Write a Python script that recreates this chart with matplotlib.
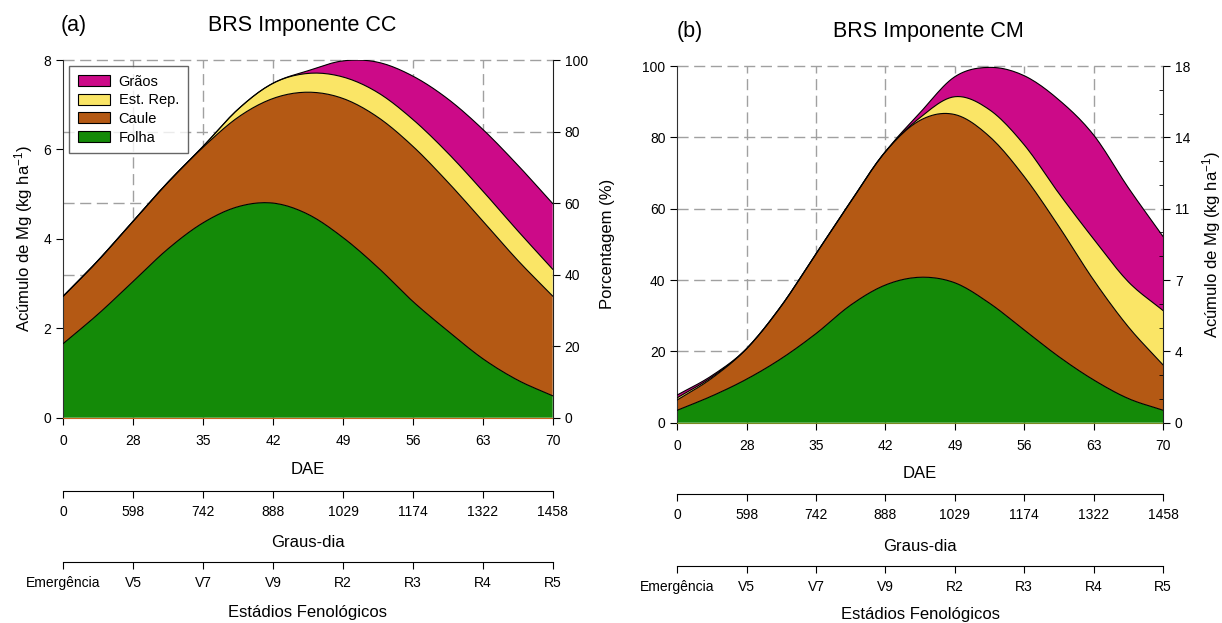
import numpy as np
import matplotlib
matplotlib.use('Agg')
import matplotlib.pyplot as plt
from matplotlib.patches import Patch

plt.rcParams['font.family'] = ['Liberation Sans', 'DejaVu Sans']
plt.rcParams['mathtext.default'] = 'regular'

# axis labels
dae = ['0', '28', '35', '42', '49', '56', '63', '70']
graus = ['0', '598', '742', '888', '1029', '1174', '1322', '1458']
estadios = ['Emergência', 'V5', 'V7', 'V9', 'R2', 'R3', 'R4', 'R5']

# positions along the DAE axis (tick index) where the curves were read
x_pos = [0, 0.5, 1, 1.5, 2, 2.5, 3, 3.5, 4, 4.5, 5, 5.5, 6, 6.5, 7]

# (a) BRS Imponente CC, Mg accumulation (kg/ha) per organ
folha_cc = [1.66, 2.32, 3.05, 3.78, 4.36, 4.72, 4.80, 4.55, 4.03, 3.36, 2.60, 1.94, 1.32, 0.84, 0.49]
caule_cc = [1.06, 1.20, 1.35, 1.49, 1.69, 2.00, 2.34, 2.73, 3.11, 3.36, 3.47, 3.33, 3.08, 2.68, 2.23]
est_cc = [0, 0, 0, 0, 0.02, 0.18, 0.34, 0.42, 0.48, 0.55, 0.60, 0.65, 0.67, 0.66, 0.60]
graos_cc = [0, 0, 0, 0, 0, 0, 0, 0.06, 0.36, 0.68, 0.97, 1.21, 1.38, 1.47, 1.47]

# (b) BRS Imponente CM, Mg accumulation (kg/ha) per organ
folha_cm = [0.63, 1.35, 2.20, 3.24, 4.50, 5.94, 6.95, 7.34, 7.06, 6.03, 4.68, 3.33, 2.16, 1.22, 0.63]
caule_cm = [0.52, 0.90, 1.54, 2.66, 4.03, 5.22, 6.73, 7.92, 8.49, 8.41, 7.74, 6.57, 5.04, 3.62, 2.29]
est_cm = [0.11, 0.06, 0, 0, 0, 0, 0, 0.14, 0.90, 1.35, 1.60, 1.67, 2.07, 2.27, 2.74]
graos_cm = [0.14, 0.07, 0, 0, 0, 0, 0, 0.25, 1.01, 2.14, 3.49, 4.72, 5.25, 4.75, 3.74]

names = ['Folha', 'Caule', 'Est. Rep.', 'Grãos']
colors = ['#148a08', '#b45914', '#fae566', '#cc0a88']


def smooth(x, y, n=12):
    # cubic hermite through the read points, only for a smooth outline
    x = np.asarray(x, float)
    y = np.asarray(y, float)
    m = np.gradient(y, x)
    xs, ys = [], []
    t = np.linspace(0, 1, n, endpoint=False)
    h00 = 2*t**3 - 3*t**2 + 1
    h10 = t**3 - 2*t**2 + t
    h01 = -2*t**3 + 3*t**2
    h11 = t**3 - t**2
    for i in range(len(x) - 1):
        h = x[i+1] - x[i]
        xs.append(x[i] + t*h)
        ys.append(h00*y[i] + h10*h*m[i] + h01*y[i+1] + h11*h*m[i+1])
    xs.append([x[-1]])
    ys.append([y[-1]])
    return np.concatenate(xs), np.concatenate(ys)


def draw_stack(ax, comps):
    tops = np.cumsum(np.array(comps, float), axis=0)
    xs = smooth(x_pos, tops[0])[0]
    dense = np.array([smooth(x_pos, t)[1] for t in tops])
    dense = np.maximum.accumulate(np.clip(dense, 0, None), axis=0)
    lower = np.zeros_like(xs)
    for top, c in zip(dense, colors):
        ax.fill_between(xs, lower, top, facecolor=c, edgecolor='none', zorder=2)
        lower = top
    for top in dense:
        ax.plot(xs, top, color='black', lw=0.8, zorder=3)


W, H = 1222, 623
fig = plt.figure(figsize=(W/100, H/100), dpi=100)


def box(l, t, r, b):
    return [l/W, 1 - b/H, (r - l)/W, (b - t)/H]


def setup(ax, ymax, base_color, pad_lab):
    ax.set_xlim(0, 7)
    ax.set_ylim(0, ymax)
    ax.set_xticks(range(8))
    ax.set_xticklabels(dae)
    for k in range(1, 6):
        ax.axhline(ymax*k/5, color='#a0a0a0', lw=1.0, dashes=(8, 4), zorder=1, clip_on=False)
    for i in range(1, 7):
        ax.axvline(i, color='#a0a0a0', lw=1.0, dashes=(8, 4), zorder=1)
    ax.spines['top'].set_visible(False)
    ax.spines['right'].set_visible(False)
    ax.spines['left'].set_color('#303030')
    ax.spines['bottom'].set_color(base_color)
    ax.tick_params(direction='out', length=5, width=0.8, labelsize=10)
    ax.tick_params(axis='x', pad=7)
    ax.set_xlabel('DAE', fontsize=12, labelpad=pad_lab)
    tw = ax.twinx()
    tw.set_ylim(0, ymax)
    for s in ['top', 'left', 'bottom']:
        tw.spines[s].set_visible(False)
    tw.spines['right'].set_color('#202020')
    tw.tick_params(direction='out', length=5, width=0.8, labelsize=10)
    return tw


def scale_axis(ax, y_px, labels, title, pad_lab):
    p = ax.get_position()
    a = fig.add_axes([p.x0, 1 - y_px/H, p.width, 1e-4])
    a.set_xlim(0, 7)
    a.set_xticks(range(8))
    a.set_xticklabels(labels)
    a.set_yticks([])
    a.patch.set_visible(False)
    for s in ['top', 'left', 'right']:
        a.spines[s].set_visible(False)
    a.tick_params(axis='x', direction='out', length=5, width=0.8, labelsize=10, pad=5)
    a.set_xlabel(title, fontsize=12, labelpad=pad_lab)


# ---- (a)
ax_a = fig.add_axes(box(63.3, 60, 552.7, 417.7))
draw_stack(ax_a, [folha_cc, caule_cc, est_cc, graos_cc])
tw_a = setup(ax_a, 8, '#c8641e', 9.5)
ax_a.set_yticks([0, 2, 4, 6, 8])
tw_a.set_yticks(np.linspace(0, 8, 6))
tw_a.set_yticklabels(['0', '20', '40', '60', '80', '100'])
ax_a.set_ylabel('Acúmulo de Mg (kg ha$^{-1}$)', fontsize=12)
ax_a.yaxis.set_label_coords(-0.058, 0.5)
handles = [Patch(facecolor=colors[i], edgecolor='black', lw=0.8, label=names[i]) for i in [3, 2, 1, 0]]
leg = ax_a.legend(handles=handles, loc='upper left', fontsize=10.5, frameon=True, fancybox=False,
                  edgecolor='#404040', handlelength=2.2, handleheight=0.8, labelspacing=0.32,
                  handletextpad=0.6, borderaxespad=0.4, borderpad=0.6)
leg.get_frame().set_linewidth(1.0)
leg.set_zorder(5)
scale_axis(ax_a, 490.7, graus, 'Graus-dia', 12)
scale_axis(ax_a, 562.3, estadios, 'Estádios Fenológicos', 11)
fig.text(302/W, 1 - 25/H, 'BRS Imponente CC', fontsize=15.5, ha='center', va='center')
fig.text(61/W, 1 - 25/H, '(a)', fontsize=15.5, ha='left', va='center')

# ---- (b)
ax_b = fig.add_axes(box(677.3, 66, 1163, 422.7))
draw_stack(ax_b, [folha_cm, caule_cm, est_cm, graos_cm])
tw_b = setup(ax_b, 18, '#7a8a20', 9)
ax_b.set_yticks(np.linspace(0, 18, 6))
ax_b.set_yticklabels(['0', '20', '40', '60', '80', '100'])
tw_b.set_yticks(np.linspace(0, 18, 6))
tw_b.set_yticklabels(['0', '4', '7', '11', '14', '18'])
tw_b.set_yticks(np.arange(1.2, 18, 1.2), minor=True)
tw_b.tick_params(which='minor', direction='in', length=3, width=0.6)
ax_b.set_ylabel('Porcentagem (%)', fontsize=12)
ax_b.yaxis.set_label_coords(-0.128, 0.5)
tw_b.set_ylabel('Acúmulo de Mg (kg ha$^{-1}$)', fontsize=12, rotation=90)
tw_b.yaxis.set_label_coords(1.077, 0.5)
scale_axis(ax_b, 494, graus, 'Graus-dia', 12.5)
scale_axis(ax_b, 566, estadios, 'Estádios Fenológicos', 9.5)
fig.text(928/W, 1 - 31/H, 'BRS Imponente CM', fontsize=15.5, ha='center', va='center')
fig.text(677/W, 1 - 31/H, '(b)', fontsize=15.5, ha='left', va='center')

fig.savefig('out.png', dpi=100)
